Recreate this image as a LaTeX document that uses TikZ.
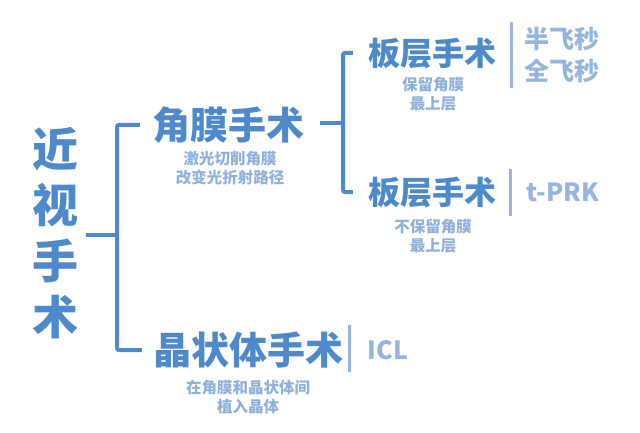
\documentclass[tikz,border=0pt]{standalone}
\usepackage{fontspec}
\newfontfamily\cjk{Noto Sans CJK SC}
\definecolor{mainblue}{HTML}{4E8ACB}
\definecolor{lightblue}{HTML}{93B5DE}
\definecolor{noteblue}{HTML}{8FB0DB}

\begin{document}
\begin{tikzpicture}[x=1pt,y=-1pt,
    title/.style={inner sep=0pt,align=center,text=mainblue,font=\cjk\bfseries\fontsize{46}{56}\selectfont},
    big/.style={inner sep=0pt,text=mainblue,font=\cjk\bfseries\fontsize{38}{40}\selectfont},
    mid/.style={inner sep=0pt,text=mainblue,font=\cjk\bfseries\fontsize{32}{34}\selectfont},
    note/.style={inner sep=0pt,align=center,text=noteblue,font=\cjk\bfseries\fontsize{15.5}{19}\selectfont},
    tag/.style={inner sep=0pt,align=center,text=lightblue,font=\cjk\bfseries\fontsize{25}{32}\selectfont},
    branch/.style={draw=mainblue,line width=4pt,rounded corners=2pt},
    sep/.style={draw=lightblue,line width=3pt}]
    \useasboundingbox (0,0) rectangle (640,433);
    \node[title] (root) at (55,233) {近\\视\\手\\术};
    \node[big] (kera) at (228,125) {角膜手术};
    \node[note] (kerasub) at (230,168) {激光切削角膜\\改变光折射路径};
    \node[big] (lens) at (248,350) {晶状体手术};
    \node[note] (lenssub) at (248,397) {在角膜和晶状体间\\植入晶体};
    \node[mid] (lam1) at (432,53) {板层手术};
    \node[note] (lam1sub) at (433,94) {保留角膜\\最上层};
    \node[mid] (lam2) at (432,192) {板层手术};
    \node[note] (lam2sub) at (433,236) {不保留角膜\\最上层};
    \node[tag] (fs) at (562,55) {半飞秒\\全飞秒};
    \node[tag] (tprk) at (563,192) {t-PRK};
    \node[tag] (icl) at (388,350) {ICL};
    % brackets
    \coordinate (j1) at (117,235);
    \coordinate (j2) at (343,123);
    \draw[branch] ([xshift=8pt]root.east |- j1) -- (j1);
    \draw[branch] ([xshift=-12pt]kera.west) -| (j1) |- ([xshift=-11pt]lens.west);
    \draw[branch] ([xshift=16pt]kera.east |- j2) -- (j2);
    \draw[branch] ([xshift=-15pt]lam1.west) -| (j2) |- ([xshift=-15pt]lam2.west);
    % separators
    \draw[sep] ([xshift=-13pt]fs.west) ++(0,-33) -- ++(0,66);
    \draw[sep] ([xshift=-16pt]tprk.west) ++(0,-23) -- ++(0,47);
    \draw[sep] ([xshift=-18pt]icl.west) ++(0,-25) -- ++(0,47);
\end{tikzpicture}
\end{document}
